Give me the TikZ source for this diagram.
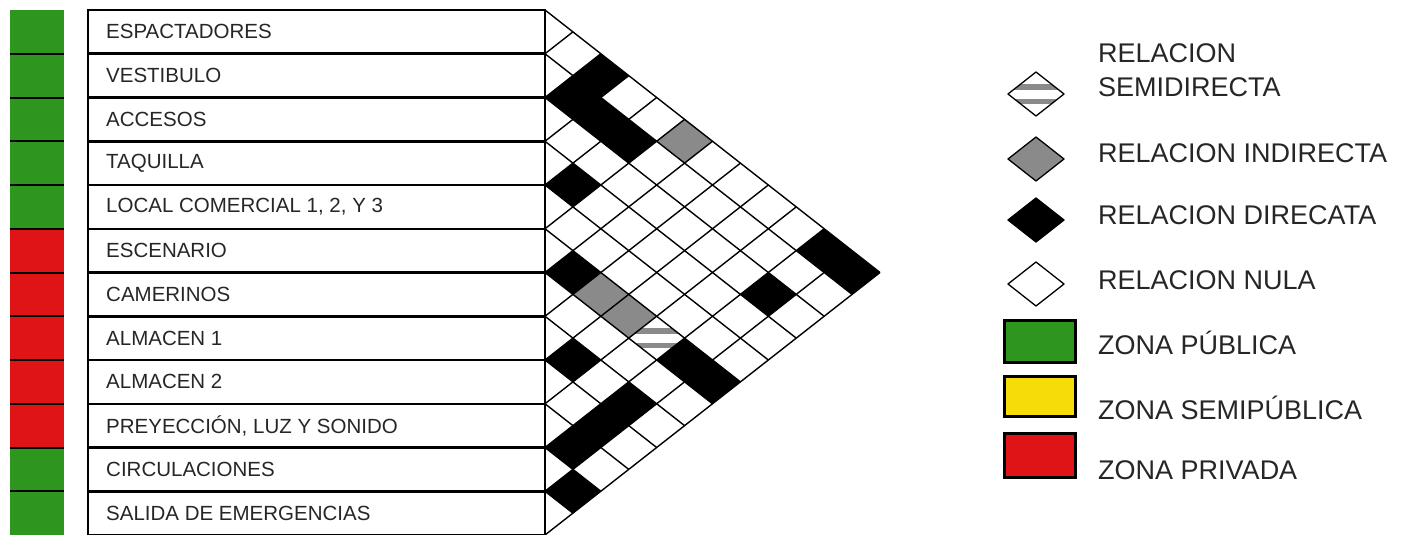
\documentclass[tikz,border=0pt]{standalone}
\usepackage{fontspec}
\setmainfont{Liberation Sans}

\definecolor{zonegreen}{RGB}{46,150,30}
\definecolor{zonered}{RGB}{222,20,22}
\definecolor{zoneyellow}{RGB}{246,221,10}
\definecolor{relgray}{RGB}{138,138,138}

% half width and half height of one diamond of the matrix
\newcommand{\cellhw}{27.917}
\newcommand{\cellhh}{21.875}
% diamond for the spaces #1 and #2, filled with style #3
\newcommand{\relcell}[3]{%
  \fill[#3, shift={({545+(#2-#1)*\cellhw},{10+(#1+#2-1)*\cellhh})}]
    (-\cellhw,0) -- (0,-\cellhh) -- (\cellhw,0) -- (0,\cellhh) -- cycle;}
% striped diamond (semidirect) centred at #1,#2
\newcommand{\semistripes}[2]{%
  \begin{scope}[shift={(#1,#2)}]
    \clip (-\cellhw,0) -- (0,-\cellhh) -- (\cellhw,0) -- (0,\cellhh) -- cycle;
    \fill[relgray] (-\cellhw,-10) rectangle (\cellhw,-4.5);
    \fill[relgray] (-\cellhw,4.5) rectangle (\cellhw,10);
  \end{scope}}

\begin{document}
\begin{tikzpicture}[x=1pt, y=-1pt,
    rowtext/.style={anchor=west, inner sep=0pt, text=black!85, font=\fontsize{20.5}{22}\selectfont},
    legtext/.style={anchor=west, inner sep=0pt, align=left, text=black!85, font=\fontsize{27}{34}\selectfont},
    legdiamond/.style={line width=1.3pt, line join=round},
    zonebox/.style={draw=black, line width=3pt}]
    \useasboundingbox (0,0) rectangle (1405,535);

    % Spaces of the programme, with their zone colour
    \foreach \lbl/\zc [count=\k] in {ESPACTADORES/zonegreen, VESTIBULO/zonegreen,
        ACCESOS/zonegreen, TAQUILLA/zonegreen, {LOCAL COMERCIAL 1, 2, Y 3}/zonegreen,
        ESCENARIO/zonered, CAMERINOS/zonered, ALMACEN 1/zonered, ALMACEN 2/zonered,
        {PREYECCIÓN, LUZ Y SONIDO}/zonered, CIRCULACIONES/zonegreen,
        SALIDA DE EMERGENCIAS/zonegreen} {
        \fill[\zc] (10,{10+(\k-1)*43.75}) rectangle (64,{10+\k*43.75});
        \draw[line width=2.5pt] (88,{10+(\k-1)*43.75}) rectangle (545,{10+\k*43.75});
        \node[rowtext] (r\k) at (106,{10+(\k-0.5)*43.75}) {\lbl};
    }
    \foreach \k in {1,...,11}
        \draw[line width=2pt] (10,{10+\k*43.75}) -- (64,{10+\k*43.75});

    % Filled relations of the matrix
    \foreach \i/\j in {1/3, 2/3, 2/4, 2/5, 4/5, 1/11, 1/12, 6/7, 3/11, 8/9,
        6/11, 6/12, 8/11, 9/11, 10/11, 11/12}
        \relcell{\i}{\j}{black};
    \foreach \i/\j in {1/6, 6/8, 6/9}
        \relcell{\i}{\j}{relgray};
    \semistripes{{545+4*\cellhw}}{{10+15*\cellhh}}

    % Diagonal grid of the matrix
    \foreach \k in {0,...,12} {
        \draw[line width=1.4pt] (545,{10+\k*43.75}) -- ++({(12-\k)*\cellhw},{(12-\k)*\cellhh});
        \draw[line width=1.4pt] (545,{10+\k*43.75}) -- ++({\k*\cellhw},{-\k*\cellhh});
    }

    % Legend of relations
    \semistripes{1036}{94}
    \draw[legdiamond] (1008,94) -- (1036,72) -- (1064,94) -- (1036,116) -- cycle;
    \node[legtext] (lsemi) at (1098,70) {RELACION\\SEMIDIRECTA};
    \filldraw[legdiamond, fill=relgray] (1008,159) -- (1036,137) -- (1064,159) -- (1036,181) -- cycle;
    \node[legtext] (lind) at (1098,153) {RELACION INDIRECTA};
    \filldraw[legdiamond, fill=black] (1008,220) -- (1036,198) -- (1064,220) -- (1036,242) -- cycle;
    \node[legtext] (ldir) at (1098,215) {RELACION DIRECATA};
    \draw[legdiamond] (1008,284) -- (1036,262) -- (1064,284) -- (1036,306) -- cycle;
    \node[legtext] (lnul) at (1098,280) {RELACION NULA};

    % Legend of zones
    \filldraw[zonebox, fill=zonegreen] (1004,320) rectangle (1075,362);
    \node[legtext] (lpub) at (1098,343) {ZONA PÚBLICA};
    \filldraw[zonebox, fill=zoneyellow] (1004,376) rectangle (1075,416);
    \node[legtext] (lsemipub) at (1098,408) {ZONA SEMIPÚBLICA};
    \filldraw[zonebox, fill=zonered] (1004,433) rectangle (1075,477);
    \node[legtext] (lpriv) at (1098,470) {ZONA PRIVADA};
\end{tikzpicture}
\end{document}
